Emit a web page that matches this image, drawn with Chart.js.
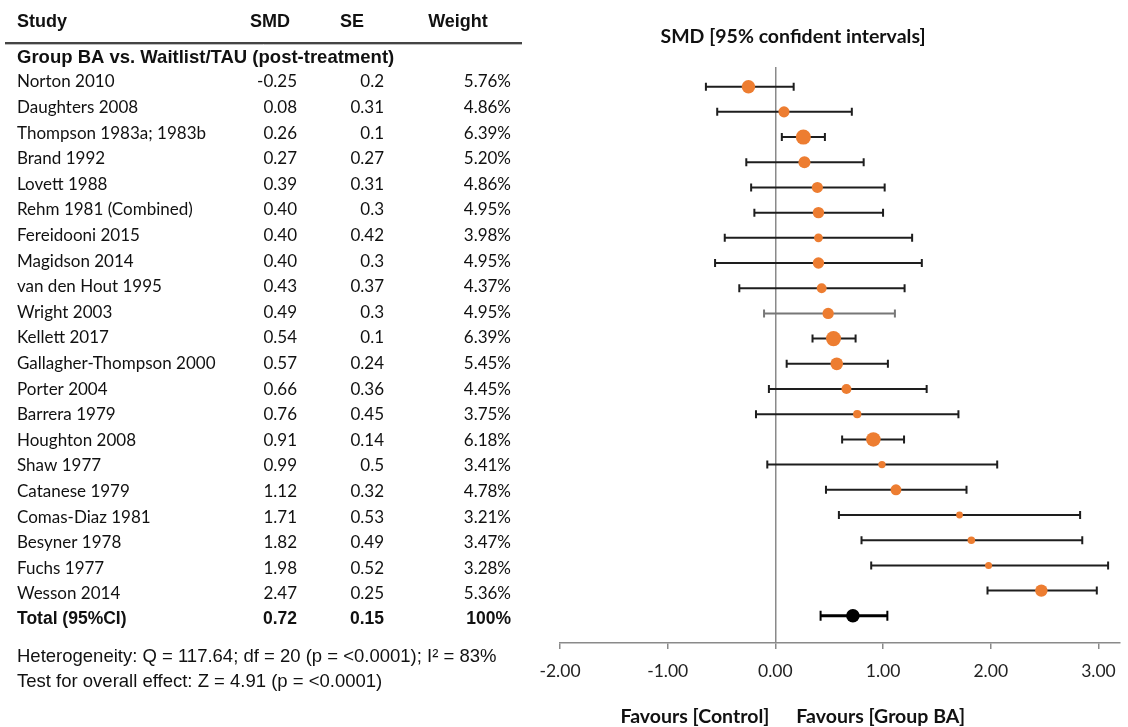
<!DOCTYPE html>
<html><head><meta charset="utf-8">
<script src="https://cdn.jsdelivr.net/npm/chart.js@4.4.1/dist/chart.umd.min.js"></script>
<style>html,body{margin:0;padding:0;background:#fff;}#wrap{position:relative;width:1128px;height:727px;}</style>
</head><body><div id="wrap"><canvas id="c" width="1128" height="727"></canvas></div>
<script>
// ---- data ----
const studies = ["Norton 2010","Daughters 2008","Thompson 1983a; 1983b","Brand 1992","Lovett 1988","Rehm 1981 (Combined)","Fereidooni 2015","Magidson 2014","van den Hout 1995","Wright 2003","Kellett 2017","Gallagher-Thompson 2000","Porter 2004","Barrera 1979","Houghton 2008","Shaw 1977","Catanese 1979","Comas-Diaz 1981","Besyner 1978","Fuchs 1977","Wesson 2014"];
const smd = [-0.25,0.08,0.26,0.27,0.39,0.40,0.40,0.40,0.43,0.49,0.54,0.57,0.66,0.76,0.91,0.99,1.12,1.71,1.82,1.98,2.47];
const se = [0.2,0.31,0.1,0.27,0.31,0.3,0.42,0.3,0.37,0.3,0.1,0.24,0.36,0.45,0.14,0.5,0.32,0.53,0.49,0.52,0.25];
const weights = [5.76,4.86,6.39,5.20,4.86,4.95,3.98,4.95,4.37,4.95,6.39,5.45,4.45,3.75,6.18,3.41,4.78,3.21,3.47,3.28,5.36];
const ciLower = [-0.645,-0.54,0.06,-0.27,-0.225,-0.195,-0.47,-0.56,-0.335,-0.105,0.345,0.105,-0.06,-0.18,0.62,-0.075,0.47,0.59,0.80,0.89,1.97];
const ciUpper = [0.17,0.71,0.46,0.82,1.015,1.00,1.27,1.36,1.20,1.11,0.745,1.045,1.405,1.70,1.195,2.06,1.775,2.83,2.85,3.09,2.985];
const totalLabel = "Total (95%CI)";
const totalSmd = 0.72, totalSe = 0.15, totalWeight = "100%";
const totalLower = 0.42, totalUpper = 1.04;
const xTicks = [-2,-1,0,1,2,3];
const header = ["Study","SMD","SE","Weight"];
const groupLabel = "Group BA vs. Waitlist/TAU (post-treatment)";
const footLines = ["Heterogeneity: Q = 117.64; df = 20 (p = <0.0001); I\u00B2 = 83%","Test for overall effect: Z = 4.91 (p = <0.0001)"];
const plotTitle = "SMD [95% confident intervals]";
const favLeft = "Favours [Control]", favRight = "Favours [Group BA]";

const ORANGE = "#ED7D31";
const CAL = "Lato, 'Open Sans', sans-serif";
const ARIAL = "'Liberation Sans', Arial, sans-serif";

const errorBars = {
  id: "errorBars",
  beforeDatasetsDraw(chart) {
    const {ctx, scales: {x, y}} = chart;
    ctx.save();
    const draw = (lo, hi, row, lw, cap, col) => {
      const py = y.getPixelForValue(row), x1 = x.getPixelForValue(lo), x2 = x.getPixelForValue(hi);
      ctx.strokeStyle = col; ctx.lineWidth = lw;
      ctx.beginPath(); ctx.moveTo(x1, py); ctx.lineTo(x2, py); ctx.stroke();
      ctx.lineWidth = 2;
      ctx.beginPath(); ctx.moveTo(x1, py - cap); ctx.lineTo(x1, py + cap);
      ctx.moveTo(x2, py - cap); ctx.lineTo(x2, py + cap); ctx.stroke();
    };
    studies.forEach((s, i) => draw(ciLower[i], ciUpper[i], i, 2, 4, i === 9 ? "#777" : "#1e1e1e"));
    draw(totalLower, totalUpper, studies.length, 3, 5, "#000");
    ctx.restore();
  }
};

const textPlugin = {
  id: "textPlugin",
  afterDraw(chart) {
    const {ctx, scales: {x}} = chart;
    ctx.save();
    ctx.fillStyle = "#111";
    ctx.textBaseline = "middle";
    // header
    ctx.font = "bold 18px " + ARIAL;
    ctx.textAlign = "left"; ctx.fillText(header[0], 17, 22);
    ctx.textAlign = "center";
    ctx.fillText(header[1], 270, 22);
    ctx.fillText(header[2], 352, 22);
    ctx.fillText(header[3], 458, 22);
    // header rule
    ctx.strokeStyle = "#444"; ctx.lineWidth = 2;
    ctx.beginPath(); ctx.moveTo(5, 43); ctx.lineTo(522, 43); ctx.stroke();
    ctx.strokeStyle = "#bbb"; ctx.lineWidth = 1;
    ctx.beginPath(); ctx.moveTo(5, 44.5); ctx.lineTo(522, 44.5); ctx.stroke();
    // group label
    ctx.font = "bold 18.5px " + ARIAL; ctx.textAlign = "left";
    ctx.fillText(groupLabel, 17, 58);
    // rows
    const rowY = i => 82 + i * 25.6;
    ctx.font = "17px " + CAL;
    studies.forEach((s, i) => {
      const yy = rowY(i);
      ctx.textAlign = "left"; ctx.fillText(s, 17, yy);
      ctx.textAlign = "right";
      ctx.fillText(smd[i].toFixed(2), 297, yy);
      ctx.fillText(String(se[i]), 384, yy);
      ctx.fillText(weights[i].toFixed(2) + "%", 511, yy);
    });
    const ty = rowY(studies.length);
    ctx.font = "bold 17.5px " + ARIAL;
    ctx.textAlign = "left"; ctx.fillText(totalLabel, 17, ty);
    ctx.textAlign = "right";
    ctx.fillText(totalSmd.toFixed(2), 297, ty);
    ctx.fillText(totalSe.toFixed(2), 384, ty);
    ctx.fillText(totalWeight, 511, ty);
    // footer
    ctx.font = "18.5px " + ARIAL; ctx.textAlign = "left";
    ctx.fillText(footLines[0], 17, 657);
    ctx.fillText(footLines[1], 17, 682);
    // plot title
    ctx.font = "bold 19.5px " + CAL; ctx.textAlign = "center";
    ctx.fillText(plotTitle, 793, 37);
    // favours
    const x0 = x.getPixelForValue(0);
    ctx.textAlign = "right"; ctx.fillText(favLeft, x0 - 6, 717);
    ctx.textAlign = "left"; ctx.fillText(favRight, x0 + 21, 717);
    ctx.restore();
  }
};

new Chart(document.getElementById("c"), {
  type: "scatter",
  data: {
    datasets: [
      {
        label: "Studies",
        data: smd.map((v, i) => ({x: v, y: i})),
        backgroundColor: ORANGE,
        borderWidth: 0,
        pointRadius: c => 3.4 + (weights[c.dataIndex] - 3.2) * 1.3,
        pointHoverRadius: c => 3.4 + (weights[c.dataIndex] - 3.2) * 1.3
      },
      {
        label: "Total",
        data: [{x: totalSmd, y: studies.length}],
        backgroundColor: "#000",
        borderWidth: 0,
        pointRadius: 6.8
      }
    ]
  },
  options: {
    responsive: false,
    devicePixelRatio: 1,
    animation: false,
    events: [],
    layout: {padding: {left: 560, right: 5, top: 67, bottom: 0}},
    plugins: {legend: {display: false}, tooltip: {enabled: false}, title: {display: false}},
    scales: {
      x: {
        type: "linear", min: -2, max: 3.2,
        afterFit: s => { s.height = 84; },
        afterBuildTicks: s => { s.ticks = xTicks.map(v => ({value: v})); },
        border: {display: true, color: "#8a8a8a", width: 1.5},
        grid: {
          drawOnChartArea: true,
          drawTicks: true,
          tickLength: 6,
          color: c => (c.tick && c.tick.value === 0) ? "#8a8a8a" : "rgba(0,0,0,0)",
          lineWidth: 1.5,
          tickColor: "#8a8a8a",
          tickWidth: 1.5
        },
        ticks: {
          padding: 12,
          color: "#222",
          font: {family: CAL, size: 17.5},
          callback: v => Number(v).toFixed(2)
        }
      },
      y: {
        type: "linear", min: -0.78, max: 22.08, reverse: true, display: false
      }
    }
  },
  plugins: [errorBars, textPlugin]
});
</script>
</body></html>
